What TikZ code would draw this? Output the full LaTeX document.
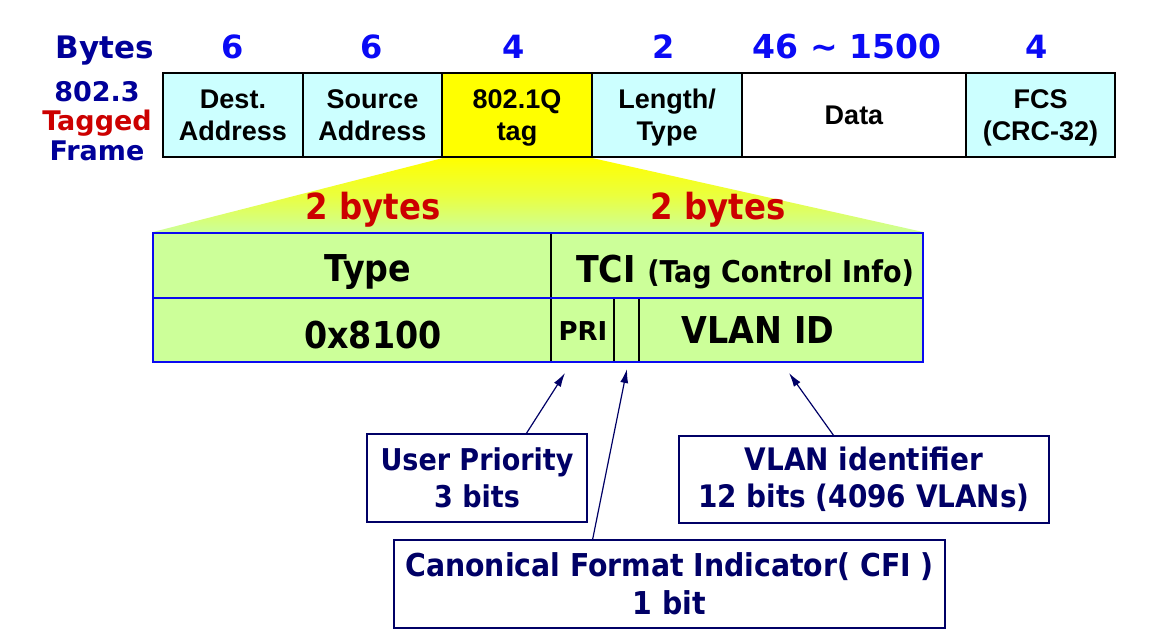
\documentclass[tikz,border=0pt]{standalone}
\usepackage{fontspec}
\usetikzlibrary{arrows.meta}
\newfontfamily\dvs{DejaVu Sans}
\newfontfamily\dvc{DejaVu Sans Condensed}
\newfontfamily\lib{Liberation Sans}
\definecolor{navy}{HTML}{000099}
\definecolor{boxnavy}{HTML}{000066}
\definecolor{digblue}{HTML}{0A0AF5}
\definecolor{redt}{HTML}{CC0000}
\definecolor{cyanc}{HTML}{CCFFFF}
\definecolor{yel}{HTML}{FFFF00}
\definecolor{grn}{HTML}{CCFF99}
\definecolor{tblue}{HTML}{0A0AF0}
\tikzset{
  hdr/.style={anchor=base, text=digblue, font=\dvs\bfseries\fontsize{32}{36}\selectfont, inner sep=0pt},
  lbl/.style={anchor=base, font=\dvs\bfseries\fontsize{27}{30}\selectfont, inner sep=0pt},
  cell/.style={draw=black, line width=2pt, anchor=north west, inner sep=0pt, outer sep=0pt, minimum height=84pt},
  ctext/.style={anchor=base, inner sep=0pt, font=\lib\bfseries\fontsize{27}{32}\selectfont},
  big/.style={anchor=base, inner sep=0pt, font=\dvc\bfseries\fontsize{37}{40}\selectfont},
  note/.style={draw=boxnavy, line width=1.4pt, text=boxnavy, align=center, inner sep=0pt, outer sep=0pt,
    font=\dvc\bfseries\fontsize{31}{37}\selectfont},
  arr/.style={draw=boxnavy, line width=1.2pt, -{Latex[length=14pt,width=8pt]}},
}
\begin{document}
\begin{tikzpicture}[x=1pt,y=-1pt]
\useasboundingbox (0,0) rectangle (1151,644);
\fill[white] (0,0) rectangle (1151,644);
% header row
\node[hdr, text=navy, font=\dvs\bfseries\fontsize{31}{36}\selectfont] (bytes) at (105,59) {Bytes};
\node[hdr] (b1) at (233,59) {6};
\node[hdr] (b2) at (372,59) {6};
\node[hdr] (b3) at (514,59) {4};
\node[hdr] (b4) at (664,59) {2};
\node[hdr, font=\dvs\bfseries\fontsize{33}{36}\selectfont] (b5) at (847,59) {46 \char"223C{} 1500};
\node[hdr] (b6) at (1037,59) {4};
% left labels
\node[lbl, text=navy] (l1) at (97,102) {802.3};
\node[lbl, text=redt] (l2) at (97,131) {Tagged};
\node[lbl, text=navy] (l3) at (97,161) {Frame};
% trapezoid
\shade[top color=yel, bottom color=grn, middle color=grn!40!yel] (443,158) -- (592,158) -- (923,232) -- (153,232) -- cycle;
% frame cells
\node[cell, fill=cyanc, minimum width=140pt] (dest) at (163,73) {};
\node[cell, fill=cyanc, minimum width=139pt] (src) at (303,73) {};
\node[cell, fill=yel, minimum width=150pt] (tag) at (442,73) {};
\node[cell, fill=cyanc, minimum width=150pt] (len) at (592,73) {};
\node[cell, fill=white, minimum width=224pt] (data) at (742,73) {};
\node[cell, fill=cyanc, minimum width=149pt] (fcs) at (966,73) {};
\node[ctext] (destA) at (dest.center |- 0,109) {Dest.};
\node[ctext] (destB) at (dest.center |- 0,141) {Address};
\node[ctext] (srcA) at (src.center |- 0,109) {Source};
\node[ctext] (srcB) at (src.center |- 0,141) {Address};
\node[ctext] (tagA) at (tag.center |- 0,109) {802.1Q};
\node[ctext] (tagB) at (tag.center |- 0,141) {tag};
\node[ctext] (lenA) at (len.center |- 0,109) {Length/};
\node[ctext] (lenB) at (len.center |- 0,141) {Type};
\node[ctext] (dataA) at (data.center |- 0,125) {Data};
\node[ctext] (fcsA) at (fcs.center |- 0,109) {FCS};
\node[ctext] (fcsB) at (fcs.center |- 0,141) {(CRC-32)};
% 2 bytes labels
\node[anchor=base, inner sep=0pt, text=redt, font=\dvc\bfseries\fontsize{36}{40}\selectfont] (tb1) at (373,220) {2 bytes};
\node[anchor=base, inner sep=0pt, text=redt, font=\dvc\bfseries\fontsize{36}{40}\selectfont] (tb2) at (718,220) {2 bytes};
% tag table
\fill[grn] (153,233) rectangle (923,362);
\draw[black, line width=1.4pt] (551,233) -- (551,362);
\draw[black, line width=1.4pt] (614,298) -- (614,362);
\draw[black, line width=1.4pt] (639,298) -- (639,362);
\draw[tblue, line width=2.2pt] (153,298) -- (923,298);
\draw[tblue, line width=2.2pt] (153,233) rectangle (923,362);
\node[big] (type) at (368,282) {Type};
\node[big, anchor=base west] (tci) at (576,283) {TCI \fontsize{30}{30}\selectfont(Tag Control Info)};
\node[big] (hex) at (373,348) {0x8100};
\node[anchor=base, inner sep=0pt, font=\dvs\bfseries\fontsize{26}{28}\selectfont] (pri) at (583,341) {PRI};
\node[big] (vid) at (758,343) {VLAN ID};
% arrow targets
\coordinate (priT) at (565,373);
\coordinate (cfiT) at (627,369);
\coordinate (vidT) at (789,373);
% note boxes
\node[note, minimum width=220pt, minimum height=88pt, anchor=north west, font=\dvc\bfseries\fontsize{30}{37}\selectfont] (up) at (367,434) {User Priority\\3 bits};
\node[note, minimum width=370pt, minimum height=87pt, anchor=north west] (vl) at (679,436) {VLAN identifier\\12 bits (4096 VLANs)};
\node[note, minimum width=551pt, minimum height=88pt, anchor=north west, font=\dvc\bfseries\fontsize{31.5}{38}\selectfont] (cfi) at (394,540) {Canonical Format Indicator( CFI )\\1 bit};
\draw[arr] ([xshift=49pt]up.north) -- (priT);
\draw[arr] ([xshift=-77pt]cfi.north) -- (cfiT);
\draw[arr] ([xshift=-30pt]vl.north) -- (vidT);
\end{tikzpicture}
\end{document}
